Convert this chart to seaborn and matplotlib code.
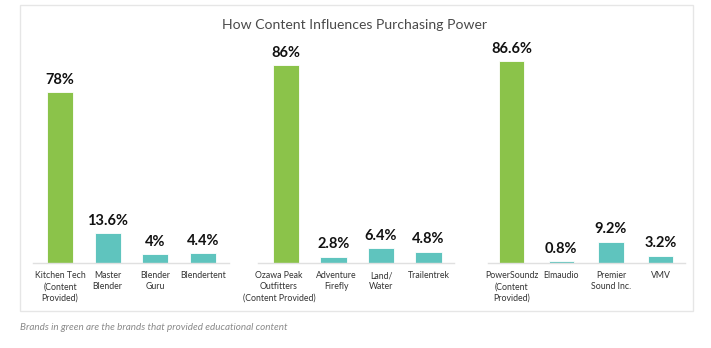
import matplotlib
matplotlib.use("Agg")
import matplotlib.pyplot as plt
import matplotlib.transforms as mtransforms
import seaborn as sns
import pandas as pd
from matplotlib.patches import Rectangle

# ---- data ----
group1_brands = ["Kitchen Tech\n(Content\nProvided)", "Master\nBlender", "Blender\nGuru", "Blendertent"]
group1_values = [78, 13.6, 4, 4.4]
group1_labels = ["78%", "13.6%", "4%", "4.4%"]

group2_brands = ["Ozawa Peak\nOutfitters\n(Content Provided)", "Adventure\nFirefly", "Land/\nWater", "Trailentrek"]
group2_values = [86, 2.8, 6.4, 4.8]
group2_labels = ["86%", "2.8%", "6.4%", "4.8%"]

group3_brands = ["PowerSoundz\n(Content\nProvided)", "Elmaudio", "Premier\nSound Inc.", "VMV"]
group3_values = [86.6, 0.8, 9.2, 3.2]
group3_labels = ["86.6%", "0.8%", "9.2%", "3.2%"]

provided_flags = [True, False, False, False]

title = "How Content Influences Purchasing Power"
caption = "Brands in green are the brands that provided educational content"

GREEN = "#8BC34A"
TEAL = "#5FC4BE"

sns.set_theme(style="white")
plt.rcParams["font.family"] = ["Lato", "DejaVu Sans"]

W, H = 711, 348
fig = plt.figure(figsize=(W / 100, H / 100), dpi=100)

def px_axes(x0, x1, ytop, ybot):
    return fig.add_axes([x0 / W, 1 - ybot / H, (x1 - x0) / W, (ybot - ytop) / H])

# outer frame
fig.patches.append(Rectangle((20 / W, 1 - 311 / H), (693 - 20) / W, (311 - 5) / H,
                             transform=fig.transFigure, fill=False,
                             edgecolor="#e6e6e6", linewidth=1.0))

fig.text(355 / W, 1 - 25 / H, title, ha="center", va="center",
         fontsize=10.1, color="#4a4a4a")
fig.text(20 / W, 1 - 328 / H, caption, ha="left", va="center",
         fontsize=7.1, color="#8a8a8a", style="italic")

# (brands, values, labels, axis x0, axis x1, xlim, ylim top, bar width, tick label shifts px)
panels = [
    (group1_brands, group1_values, group1_labels, 33, 229, (-0.566, 3.545), 97.2, 0.55, [0, 0, 0, 0]),
    (group2_brands, group2_values, group2_labels, 258, 454, (-0.59, 3.537), 92.6, 0.55, [-7, 3, 0, 0]),
    (group3_brands, group3_values, group3_labels, 488, 685, (-0.477, 3.49), 91.4, 0.51, [0, 0, 0, 0]),
]

for brands, values, labels, x0, x1, xl, ymax, bw, shifts in panels:
    ax = px_axes(x0, x1, 50, 263)
    df = pd.DataFrame({"brand": brands, "value": values,
                       "provided": ["yes" if f else "no" for f in provided_flags]})
    sns.barplot(data=df, x="brand", y="value", hue="provided",
                palette={"yes": GREEN, "no": TEAL}, dodge=False, width=bw,
                saturation=1, edgecolor="white", linewidth=0.6, legend=False, ax=ax)
    ax.set_xlim(*xl)
    ax.set_ylim(0, ymax)
    for i, (v, lab) in enumerate(zip(values, labels)):
        ax.annotate(lab, (i, v), xytext=(0, 4), textcoords="offset points",
                    ha="center", va="bottom", fontsize=10.5, fontweight="bold",
                    color="#111111")
    ax.set_xlabel("")
    ax.set_ylabel("")
    ax.set_yticks([])
    ax.tick_params(axis="x", length=0, pad=6, labelsize=6.3, labelcolor="#333333")
    tls = ax.get_xticklabels()
    for t, sh in zip(tls, shifts):
        t.set_linespacing(1.3)
        if sh:
            off = mtransforms.ScaledTranslation(sh / 100, 0, fig.dpi_scale_trans)
            t.set_transform(t.get_transform() + off)
    for s in ["top", "right", "left"]:
        ax.spines[s].set_visible(False)
    ax.spines["bottom"].set_color("#e0e0e0")
    ax.spines["bottom"].set_linewidth(1.0)
    ax.patch.set_alpha(0)

fig.savefig("out.png", dpi=100)
